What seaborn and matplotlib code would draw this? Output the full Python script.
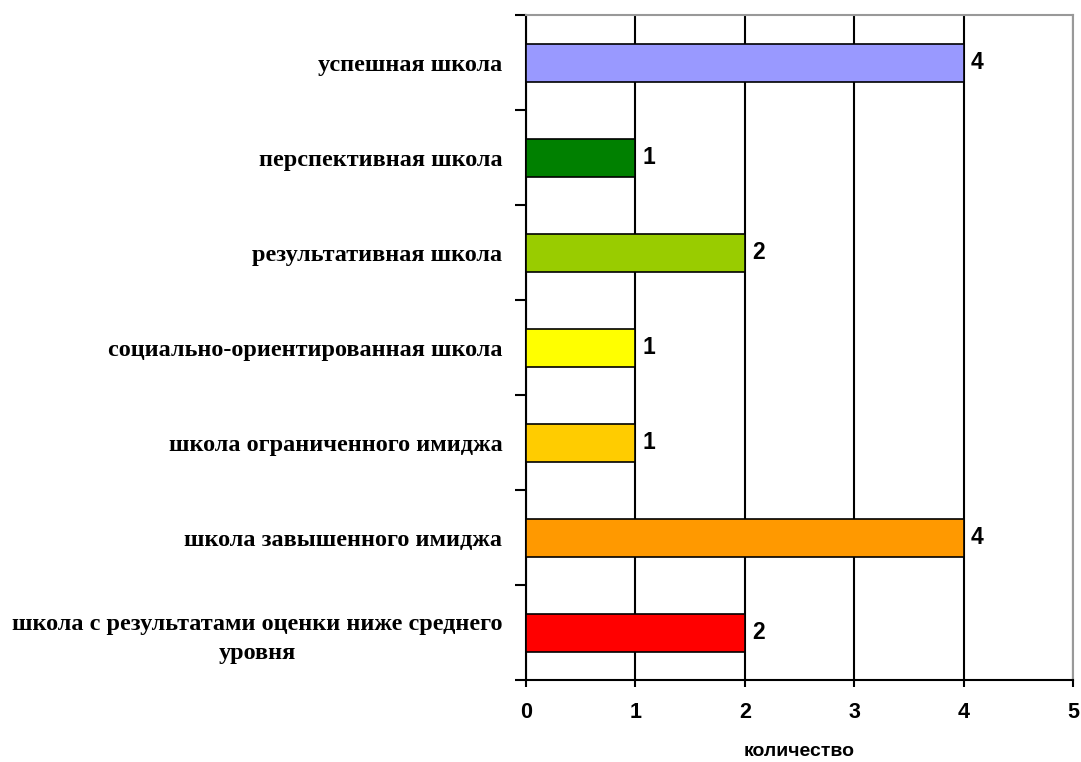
import matplotlib
matplotlib.use("Agg")
import matplotlib.pyplot as plt
import seaborn as sns
import pandas as pd
import numpy as np

# data (top to bottom)
categories = [
    "успешная школа",
    "перспективная школа",
    "результативная школа",
    "социально-ориентированная школа",
    "школа ограниченного имиджа",
    "школа завышенного имиджа",
    "школа с результатами оценки ниже среднего\nуровня",
]
counts = [4, 1, 2, 1, 1, 4, 2]
bar_colors = ["#9999FF", "#008000", "#99CC00", "#FFFF00", "#FFCC00", "#FF9900", "#FF0000"]
x_label = "количество"

df = pd.DataFrame({"category": categories, "count": counts})

sns.set_style("white")
plt.rcParams['font.family'] = ['Liberation Sans', 'DejaVu Sans']
plt.rcParams['text.color'] = 'black'
plt.rcParams['xtick.color'] = 'black'
plt.rcParams['ytick.color'] = 'black'
plt.rcParams['axes.labelcolor'] = 'black'

fig = plt.figure(figsize=(10.81, 7.62), dpi=100)
ax = fig.add_axes([0.4866, 0.1076, 0.5060, 0.8727])

sns.barplot(data=df, y="category", x="count", hue="category", palette=bar_colors,
            orient="h", width=0.4, edgecolor="black", linewidth=1.2, saturation=1,
            legend=False, ax=ax, zorder=3)

ax.set_xlim(0, 5)
ax.set_ylim(len(categories) - 0.5, -0.5)
ax.set_xticks(range(0, 6))
ax.set_xticklabels([str(i) for i in range(0, 6)], fontsize=15.5, fontweight="bold")
ax.tick_params(axis="x", length=5, width=1.5, pad=11, direction="out", bottom=True)

# category labels in bold serif, ticks between categories
ax.set_yticks(range(len(categories)))
ax.set_yticklabels(categories, fontsize=17.5, fontweight="bold",
                   family=["Liberation Serif", "DejaVu Serif"], ha="right",
                   multialignment="center", linespacing=1.5)
ax.tick_params(axis="y", length=0, pad=17)
ax.set_yticks(np.arange(-0.5, len(categories), 1.0), minor=True)
ax.tick_params(axis="y", which="minor", length=8, width=1.5, direction="out", left=True)

ax.grid(axis="x", color="black", linewidth=1.5, zorder=0)
ax.set_axisbelow(True)

for side in ["left", "bottom"]:
    ax.spines[side].set_color("black")
    ax.spines[side].set_linewidth(1.5)
for side in ["top", "right"]:
    ax.spines[side].set_color("#999999")
    ax.spines[side].set_linewidth(1.5)

for cont in ax.containers:
    ax.bar_label(cont, fmt="%d", padding=5, fontsize=16.5, fontweight="bold")

ax.set_xlabel(x_label, fontsize=14, fontweight="bold", labelpad=14)
ax.set_ylabel("")

plt.savefig("out.png", dpi=100)
